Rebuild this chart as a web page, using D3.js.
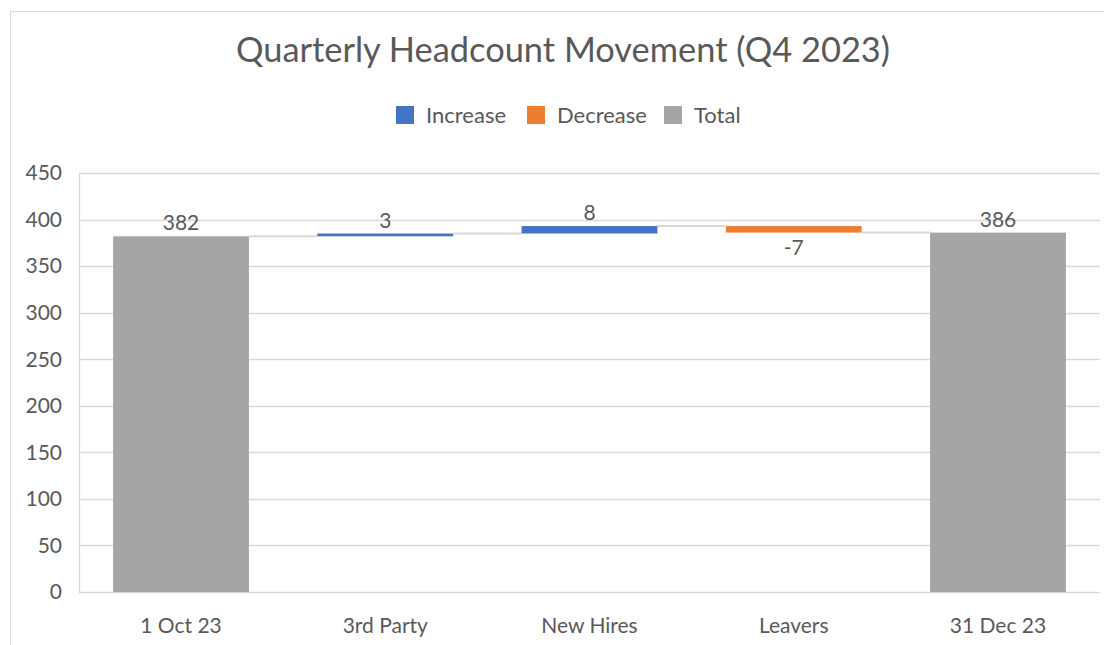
<!DOCTYPE html>
<html>
<head>
<meta charset="utf-8">
<script src="https://cdn.jsdelivr.net/npm/d3@7"></script>
<style>
  body { margin: 0; background: #fff; }
  text { font-family: Lato, "Open Sans", sans-serif; fill: #595959; }
</style>
</head>
<body>
<svg id="chart" width="1104" height="645"></svg>
<script>
// waterfall data
const categories = ["1 Oct 23", "3rd Party", "New Hires", "Leavers", "31 Dec 23"];
const changes = [382, 3, 8, -7, 386];
const kinds = ["total", "inc", "inc", "dec", "total"];
const yTicks = [0, 50, 100, 150, 200, 250, 300, 350, 400, 450];
const legendItems = ["Increase", "Decrease", "Total"];

const colors = { inc: "#4472C4", dec: "#ED7D31", total: "#A5A5A5" };

const svg = d3.select("svg#chart");
const W = 1104, H = 645;
const margin = { top: 173, right: 4, bottom: 53, left: 79 };

// outer chart border
svg.append("rect")
  .attr("x", 10.5).attr("y", 11.5)
  .attr("width", W + 20).attr("height", H + 20)
  .attr("fill", "none").attr("stroke", "#d9d9d9");

// build start / end for each bar
let running = 0;
const bars = categories.map((c, i) => {
  let start, end;
  if (kinds[i] == "total") { start = 0; end = changes[i]; running = changes[i]; }
  else { start = running; end = running + changes[i]; running = end; }
  return { cat: c, value: changes[i], kind: kinds[i], start: start, end: end };
});

const x = d3.scaleBand().domain(categories)
  .range([margin.left, W - margin.right]).paddingInner(0.335).paddingOuter(0.167);
const y = d3.scaleLinear().domain([0, 450]).range([H - margin.bottom, margin.top]);

// gridlines
svg.append("g").selectAll("line").data(yTicks).enter().append("line")
  .attr("x1", margin.left).attr("x2", W - margin.right)
  .attr("y1", d => Math.round(y(d)) + 0.5).attr("y2", d => Math.round(y(d)) + 0.5)
  .attr("stroke", "#d9d9d9").attr("stroke-width", 1.3);

// left plot edge
svg.append("line")
  .attr("x1", margin.left + 0.5).attr("x2", margin.left + 0.5)
  .attr("y1", y(450)).attr("y2", y(0))
  .attr("stroke", "#d9d9d9").attr("stroke-width", 1.3);

// y tick labels
svg.append("g").selectAll("text").data(yTicks).enter().append("text")
  .attr("x", 62).attr("y", d => y(d)).attr("dy", "0.35em")
  .attr("text-anchor", "end").attr("font-size", 21)
  .text(d => d);

// connectors
const conn = svg.append("g");
for (let i = 0; i < bars.length - 1; i++) {
  const level = bars[i].end;
  conn.append("line")
    .attr("x1", x(bars[i].cat) + x.bandwidth()).attr("x2", x(bars[i + 1].cat))
    .attr("y1", y(level)).attr("y2", y(level))
    .attr("stroke", "#d9d9d9").attr("stroke-width", 2);
}

// bars
svg.append("g").selectAll("rect").data(bars).enter().append("rect")
  .attr("x", d => x(d.cat))
  .attr("width", x.bandwidth())
  .attr("y", d => y(Math.max(d.start, d.end)))
  .attr("height", d => Math.abs(y(d.start) - y(d.end)))
  .attr("fill", d => colors[d.kind]);

// data labels
svg.append("g").selectAll("text").data(bars).enter().append("text")
  .attr("x", d => x(d.cat) + x.bandwidth() / 2)
  .attr("y", d => d.value < 0 ? y(Math.min(d.start, d.end)) + 22 : y(Math.max(d.start, d.end)) - 6)
  .attr("text-anchor", "middle").attr("font-size", 21)
  .text(d => d.value);

// category labels
svg.append("g").selectAll("text").data(categories).enter().append("text")
  .attr("x", d => x(d) + x.bandwidth() / 2).attr("y", 633)
  .attr("text-anchor", "middle").attr("font-size", 21)
  .text(d => d);

// title
svg.append("text")
  .attr("x", 563).attr("y", 62)
  .attr("text-anchor", "middle").attr("font-size", 34.4)
  .text("Quarterly Headcount Movement (Q4 2023)");

// legend
const legendX = [396, 527, 664];
const legendKeys = ["inc", "dec", "total"];
const lg = svg.append("g").selectAll("g").data(legendItems).enter().append("g")
  .attr("transform", (d, i) => translate(legendX[i], 106));
lg.append("rect").attr("width", 18).attr("height", 18)
  .attr("fill", (d, i) => colors[legendKeys[i]]);
lg.append("text").attr("x", 30).attr("y", 9).attr("dy", "0.35em")
  .attr("font-size", 22).text(d => d);

function translate(x, y) {
  return "translate(" + String(x) + "," + String(y) + ")";
}
</script>
</body>
</html>
